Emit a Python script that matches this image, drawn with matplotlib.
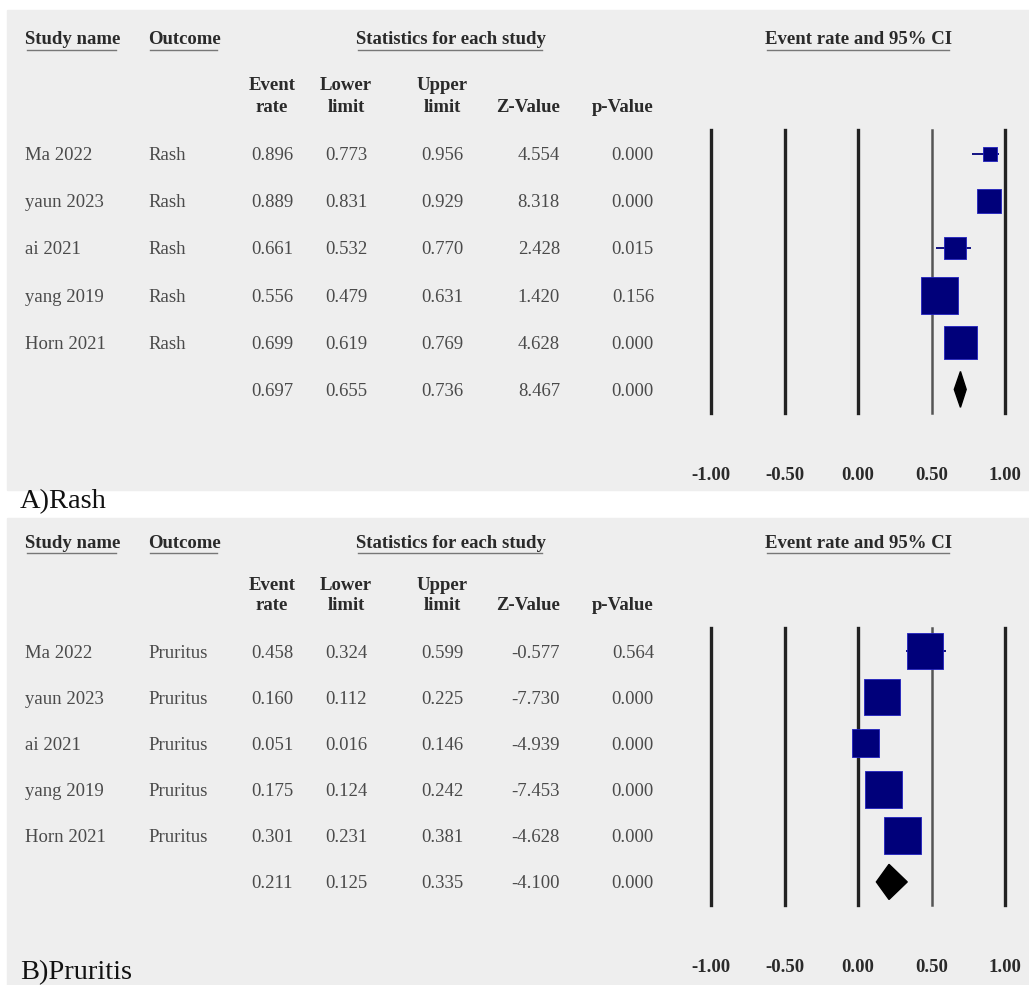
import numpy as np
import matplotlib
matplotlib.use("Agg")
import matplotlib.pyplot as plt
from matplotlib.patches import Rectangle, Polygon
from matplotlib.transforms import blended_transform_factory

plt.rcParams['font.family'] = ['Liberation Serif', 'DejaVu Serif']

# ---- data ----
studies = ["Ma 2022", "yaun 2023", "ai 2021", "yang 2019", "Horn 2021"]

rash_rate = [0.896, 0.889, 0.661, 0.556, 0.699]
rash_lower = [0.773, 0.831, 0.532, 0.479, 0.619]
rash_upper = [0.956, 0.929, 0.770, 0.631, 0.769]
rash_z = [4.554, 8.318, 2.428, 1.420, 4.628]
rash_p = [0.000, 0.000, 0.015, 0.156, 0.000]
rash_weight = [5.3, 15.5, 13.0, 36.9, 29.3]
rash_pooled = [0.697, 0.655, 0.736, 8.467, 0.000]

prur_rate = [0.458, 0.160, 0.051, 0.175, 0.301]
prur_lower = [0.324, 0.112, 0.016, 0.124, 0.231]
prur_upper = [0.599, 0.225, 0.146, 0.242, 0.381]
prur_z = [-0.577, -7.730, -4.939, -7.453, -4.628]
prur_p = [0.564, 0.000, 0.000, 0.000, 0.000]
prur_weight = [21.2, 21.2, 12.8, 22.4, 22.4]
prur_pooled = [0.211, 0.125, 0.335, -4.100, 0.000]

xticks = [-1.0, -0.5, 0.0, 0.5, 1.0]

W, H = 1029, 985
fig = plt.figure(figsize=(W / 100, H / 100), dpi=100)
bg = fig.add_axes([0, 0, 1, 1])
bg.set_xlim(0, W)
bg.set_ylim(H, 0)
bg.axis('off')

GRAY = '#eeeeee'
TXT = '#4a4a4a'
HEAD = '#2a2a2a'
NAVY = '#00007a'
FS = 13.5

headers = []


def px_axes(x0, y0, x1, y1):
    return fig.add_axes([x0 / W, 1 - y1 / H, (x1 - x0) / W, (y1 - y0) / H])


def panel(top, bottom, line_top, line_bot, hdr_y, ev_y, rate_y, tick_y,
          outcome, rate, lower, upper, z, p, weight, pooled, label, label_y):
    bg.add_patch(Rectangle((7, top), W - 7, bottom - top, color=GRAY, zorder=0))
    ax = px_axes(711, line_top, 1005, line_bot)
    ax.set_xlim(-1, 1)
    ax.set_ylim(5.5, -0.5)
    ax.axis('off')
    for t in xticks:
        ax.axvline(t, color='#555555' if t == 0.5 else '#222222',
                   lw=1.8 if t == 0.5 else 2.4, zorder=1, clip_on=False)

    rows = np.arange(len(studies))
    ax.hlines(rows, lower, upper, color=NAVY, lw=1.3, zorder=2)
    w = np.array(weight)
    side = 37 * np.sqrt(w / w.max())
    ax.scatter(rate, rows, marker='s', s=(side * 0.72) ** 2, color=NAVY,
               edgecolors='#2020c0', linewidths=0.6, zorder=3)
    est, lo, hi = pooled[0], pooled[1], pooled[2]
    yp = len(studies)
    ax.add_patch(Polygon([(lo, yp), (est, yp - 0.38), (hi, yp), (est, yp + 0.38)],
                         closed=True, color='black', zorder=3))

    tr = blended_transform_factory(bg.transData, ax.transData)
    kw = dict(transform=tr, fontsize=FS, color=TXT, va='center_baseline')
    for i, name in enumerate(studies):
        vals = [rate[i], lower[i], upper[i], z[i], p[i]]
        ax.text(25, i, name, ha='left', **kw)
        ax.text(148, i, outcome, ha='left', **kw)
        ax.text(272, i, f"{vals[0]:.3f}", ha='center', **kw)
        ax.text(346, i, f"{vals[1]:.3f}", ha='center', **kw)
        ax.text(442, i, f"{vals[2]:.3f}", ha='center', **kw)
        ax.text(560, i, f"{vals[3]:.3f}", ha='right', **kw)
        ax.text(654, i, f"{vals[4]:.3f}", ha='right', **kw)
    ax.text(272, yp, f"{pooled[0]:.3f}", ha='center', **kw)
    ax.text(346, yp, f"{pooled[1]:.3f}", ha='center', **kw)
    ax.text(442, yp, f"{pooled[2]:.3f}", ha='center', **kw)
    ax.text(560, yp, f"{pooled[3]:.3f}", ha='right', **kw)
    ax.text(654, yp, f"{pooled[4]:.3f}", ha='right', **kw)

    hk = dict(fontsize=FS, color=HEAD, fontweight='bold', va='center')
    headers.append(bg.text(25, hdr_y, "Study name", ha='left', **hk))
    headers.append(bg.text(148, hdr_y, "Outcome", ha='left', **hk))
    headers.append(bg.text(451, hdr_y, "Statistics for each study", ha='center', **hk))
    headers.append(bg.text(859, hdr_y, "Event rate and 95% CI", ha='center', **hk))
    bg.text(272, ev_y, "Event", ha='center', **hk)
    bg.text(272, rate_y, "rate", ha='center', **hk)
    bg.text(346, ev_y, "Lower", ha='center', **hk)
    bg.text(346, rate_y, "limit", ha='center', **hk)
    bg.text(442, ev_y, "Upper", ha='center', **hk)
    bg.text(442, rate_y, "limit", ha='center', **hk)
    bg.text(560, rate_y, "Z-Value", ha='right', **hk)
    bg.text(654, rate_y, "p-Value", ha='right', **hk)

    ttr = blended_transform_factory(ax.transData, bg.transData)
    for t in xticks:
        ax.text(t, tick_y, f"{t:.2f}", transform=ttr, ha='center', va='center',
                fontsize=FS, color=HEAD, fontweight='bold')

    bg.text(20, label_y, label, ha='left', va='baseline', fontsize=20.5, color='#111111')


panel(10, 490, 130, 413, 40, 85, 107, 475, "Rash",
      rash_rate, rash_lower, rash_upper, rash_z, rash_p, rash_weight, rash_pooled,
      "A)Rash", 508)
panel(518, 985, 628, 905, 543, 585, 606, 967, "Pruritus",
      prur_rate, prur_lower, prur_upper, prur_z, prur_p, prur_weight, prur_pooled,
      "B)Pruritis", 979)

# underline the bold top headers
fig.canvas.draw()
for t in headers:
    bb = t.get_window_extent()
    y = H - bb.y0 + 1
    bg.plot([bb.x0 + 2, bb.x1 - 4], [y, y], color='#777777', lw=1.0)

fig.savefig('out.png', dpi=100)
